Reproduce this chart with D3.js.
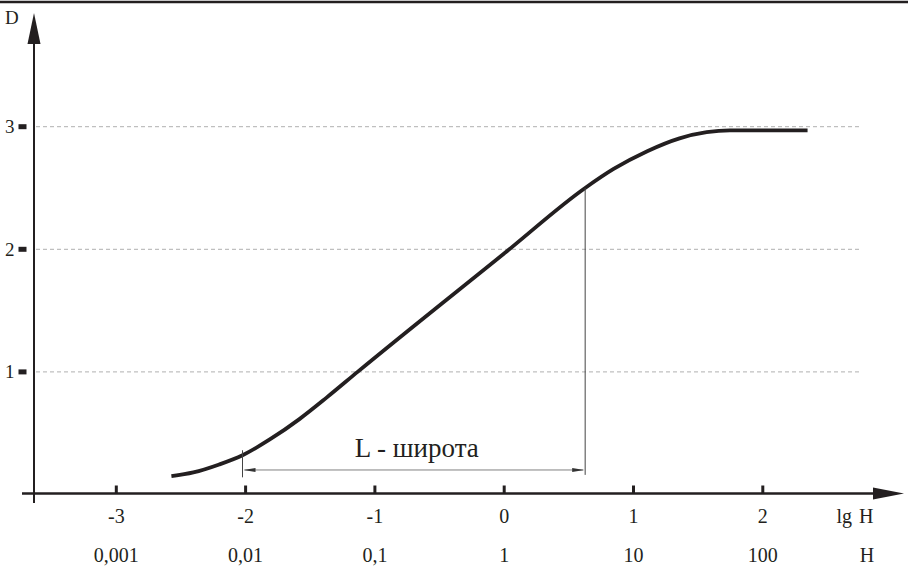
<!DOCTYPE html>
<html>
<head>
<meta charset="utf-8">
<script src="https://cdn.jsdelivr.net/npm/d3@7"></script>
<style>
  html, body { margin: 0; padding: 0; background: #fff; }
  svg { display: block; }
  text { font-family: "Liberation Serif", "Times New Roman", serif; fill: #231f20; }
</style>
</head>
<body>
<svg id="chart" width="908" height="569"></svg>
<script>
// Characteristic curve: optical density D against log exposure lg H
const lgTicks = [-3, -2, -1, 0, 1, 2];
const hLabels = ["0,001", "0,01", "0,1", "1", "10", "100"];
const dTicks = [1, 2, 3];

const curveLg = [-2.57, -2.40, -2.20, -2.02, -1.80, -1.58, -1.37, -1.13, 0.02, 0.63, 0.85, 1.11, 1.36, 1.57, 1.75, 2.35];
const curveD  = [0.15, 0.18, 0.245, 0.32, 0.455, 0.615, 0.79, 1.00, 1.98, 2.50, 2.655, 2.80, 2.905, 2.955, 2.97, 2.97];

// Useful exposure range (latitude) between the two marked points of the curve
const latitudeLg = [-2.02, 0.63];
const latitudeLabel = "L - широта";

const W = 908;
const ink = "#231f20";
const serif = "'Liberation Serif', 'Times New Roman', serif";

const svg = d3.select("#chart");

const x = d3.scaleLinear().domain([-3, 2]).range([115.8, 762.3]);
const y = d3.scaleLinear().domain([0, 3]).range([494.5, 126.7]);

const axisY = 493.5, axisX = 34;

// top rule
svg.append("line")
  .attr("x1", 0).attr("x2", W).attr("y1", 2).attr("y2", 2)
  .attr("stroke", ink).attr("stroke-width", 2.5);

// horizontal dashed grid
svg.append("g").selectAll("line").data(dTicks).join("line")
  .attr("x1", axisX + 2).attr("x2", 862)
  .attr("y1", d => y(d)).attr("y2", d => y(d))
  .attr("stroke", "#b0b0b0").attr("stroke-width", 1)
  .attr("stroke-dasharray", "4,3");

// y axis
svg.append("line")
  .attr("x1", axisX).attr("x2", axisX).attr("y1", 503).attr("y2", 40)
  .attr("stroke", ink).attr("stroke-width", 2);
svg.append("path")
  .attr("d", `M${axisX},13 L${axisX + 6.5},44 L${axisX - 6.5},44 Z`)
  .attr("fill", ink);

// x axis
svg.append("line")
  .attr("x1", 22).attr("x2", 876).attr("y1", axisY).attr("y2", axisY)
  .attr("stroke", ink).attr("stroke-width", 2.5);
svg.append("path")
  .attr("d", `M904,${axisY} L873,${axisY - 6} L873,${axisY + 6} Z`)
  .attr("fill", ink);

// x ticks (lg H) and labels
const xAxis = d3.axisBottom(x)
  .tickValues(lgTicks)
  .tickSize(-8)
  .tickPadding(15)
  .tickFormat(d3.format("d"));
const gx = svg.append("g").attr("transform", `translate(0,${axisY})`).call(xAxis);
gx.select(".domain").remove();
gx.selectAll(".tick line").attr("stroke", ink).attr("stroke-width", 3);
gx.selectAll(".tick text")
  .attr("font-size", 20).attr("fill", ink)
  .style("font-family", serif)
  .text(d => d < 0 ? "-" + Math.abs(d) : String(d));

// second row: exposure H
const hAxis = d3.axisBottom(x)
  .tickValues(lgTicks)
  .tickSize(0)
  .tickPadding(54)
  .tickFormat((d, i) => hLabels[i]);
const gh = svg.append("g").attr("transform", `translate(0,${axisY})`).call(hAxis);
gh.select(".domain").remove();
gh.selectAll(".tick text")
  .attr("font-size", 20).attr("fill", ink)
  .style("font-family", serif);

// axis names
svg.append("text").attr("x", 855).attr("y", 523).attr("text-anchor", "middle")
  .attr("font-size", 20).attr("word-spacing", 2).text("lg H");
svg.append("text").attr("x", 867).attr("y", 562).attr("text-anchor", "middle")
  .attr("font-size", 20).text("H");
svg.append("text").attr("x", 5).attr("y", 24)
  .attr("font-size", 19).text("D");

// y ticks: small squares left of the axis, with labels
svg.append("g").selectAll("rect").data(dTicks).join("rect")
  .attr("x", 18.5).attr("width", 8)
  .attr("y", d => y(d) - 2.5).attr("height", 5)
  .attr("fill", ink);
svg.append("g").selectAll("text").data(dTicks).join("text")
  .attr("x", 14.5).attr("y", d => y(d) + 6.5)
  .attr("text-anchor", "end").attr("font-size", 19)
  .text(d => d);

// curve
const pts = curveLg.map((v, i) => [v, curveD[i]]);
const line = d3.line()
  .x(d => x(d[0])).y(d => y(d[1]))
  .curve(d3.curveMonotoneX);
svg.append("path")
  .datum(pts)
  .attr("d", line)
  .attr("fill", "none").attr("stroke", ink)
  .attr("stroke-width", 3.8).attr("stroke-linecap", "butt");

// latitude markers
const curveAt = v => curveD[curveLg.indexOf(v)];
const arrowD = 0.2;
const xL = x(latitudeLg[0]), xR = x(latitudeLg[1]);
const yA = y(arrowD);

svg.append("line")
  .attr("x1", xL).attr("x2", xL)
  .attr("y1", y(curveAt(latitudeLg[0])) - 5).attr("y2", y(0.14))
  .attr("stroke", "#444").attr("stroke-width", 1);
svg.append("line")
  .attr("x1", xR).attr("x2", xR)
  .attr("y1", y(curveAt(latitudeLg[1]))).attr("y2", y(0.16))
  .attr("stroke", "#444").attr("stroke-width", 1);

svg.append("line")
  .attr("x1", xL + 2).attr("x2", xR - 2).attr("y1", yA).attr("y2", yA)
  .attr("stroke", "#808080").attr("stroke-width", 1);
svg.append("path")
  .attr("d", `M${xL + 1},${yA} L${xL + 13},${yA - 2} L${xL + 13},${yA + 2} Z`)
  .attr("fill", "#333");
svg.append("path")
  .attr("d", `M${xR - 1},${yA} L${xR - 13},${yA - 2} L${xR - 13},${yA + 2} Z`)
  .attr("fill", "#333");

svg.append("text")
  .attr("x", (xL + xR) / 2 + 3).attr("y", yA - 13)
  .attr("text-anchor", "middle").attr("font-size", 27)
  .text(latitudeLabel);
</script>
</body>
</html>
